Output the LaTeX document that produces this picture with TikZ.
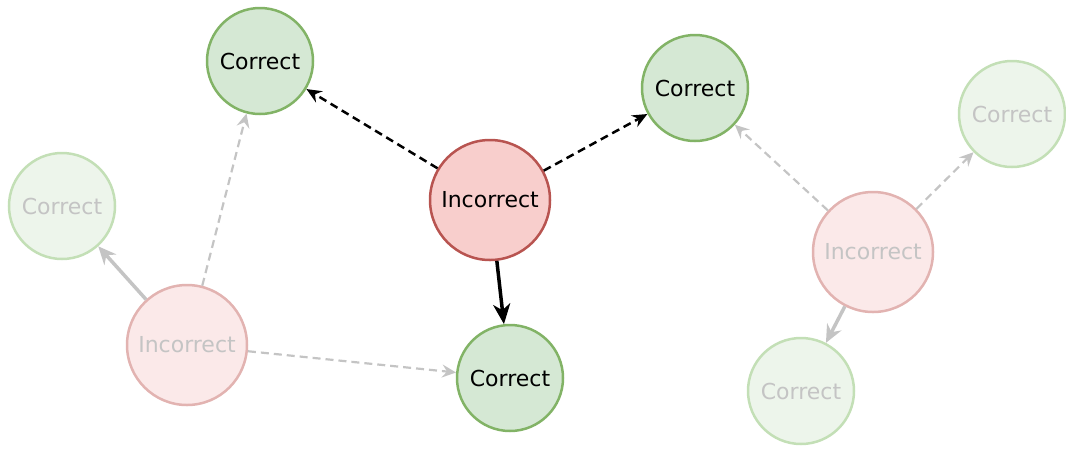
\documentclass[tikz,border=0pt]{standalone}
\usepackage{fontspec}
\setmainfont{DejaVu Sans}
\usetikzlibrary{arrows.meta}
\definecolor{okfill}{HTML}{D5E8D4}
\definecolor{okline}{HTML}{82B366}
\definecolor{badfill}{HTML}{F8CECC}
\definecolor{badline}{HTML}{B85450}
\definecolor{dimok}{HTML}{EDF5EB}
\definecolor{dimokline}{HTML}{C3DFB6}
\definecolor{dimbad}{HTML}{FBE9E9}
\definecolor{dimbadline}{HTML}{E2B3B1}
\definecolor{dimtext}{HTML}{C4C4C4}
\definecolor{dimedge}{HTML}{C4C4C4}
\begin{document}
\begin{tikzpicture}[x=1pt,y=-1pt,
  every node/.style={circle,line width=2.5pt,inner sep=0pt,font=\fontsize{22}{26}\selectfont},
  goodnode/.style={draw=okline,fill=okfill,minimum size=106pt,text=black},
  badnode/.style={draw=badline,fill=badfill,minimum size=120pt,text=black},
  fadegood/.style={draw=dimokline,fill=dimok,minimum size=106pt,text=dimtext},
  fadebad/.style={draw=dimbadline,fill=dimbad,minimum size=120pt,text=dimtext},
  hint/.style={line width=2.5pt,dash pattern=on 8pt off 5pt,-{Stealth[length=15pt,width=13pt,inset=5pt]}},
  pick/.style={line width=3.5pt,-{Stealth[length=20pt,width=17pt,inset=6pt]}},
  fadehint/.style={draw=dimedge,line width=2.2pt,dash pattern=on 8pt off 5pt,-{Stealth[length=14pt,width=13pt,inset=5pt]}},
  fadepick/.style={draw=dimedge,line width=3.5pt,-{Stealth[length=18pt,width=16pt,inset=6pt]}}]
\useasboundingbox (0,0) rectangle (1066,448);
% main cluster
\node[goodnode] (a) at (260,61) {Correct};
\node[goodnode] (b) at (695,88) {Correct};
\node[badnode]  (c) at (490,200) {Incorrect};
\node[goodnode] (d) at (510,378) {Correct};
% faded left cluster
\node[fadegood] (e) at (62,206) {Correct};
\node[fadebad]  (f) at (187,345) {Incorrect};
% faded right cluster
\node[fadegood] (g) at (1012,114) {Correct};
\node[fadebad]  (h) at (873,252) {Incorrect};
\node[fadegood] (i) at (801,391) {Correct};
% faded connectors
\draw[fadepick] (f) -- (e);
\draw[fadehint] (f) -- (a);
\draw[fadehint] (f) -- (d);
\draw[fadehint] (h) -- (b);
\draw[fadehint] (h) -- (g);
\draw[fadepick] (h) -- (i);
% main connectors
\draw[hint] (c) -- (a);
\draw[hint] (c) -- (b);
\draw[pick] (c) -- (d);
\end{tikzpicture}
\end{document}
